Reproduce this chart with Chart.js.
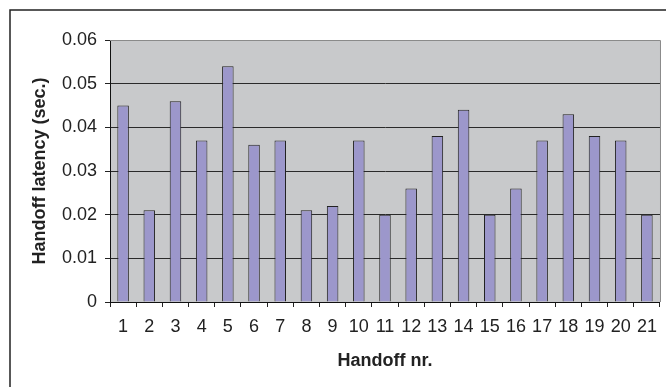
<!DOCTYPE html>
<html>
<head>
<meta charset="utf-8">
<script src="https://cdn.jsdelivr.net/npm/chart.js@4/dist/chart.umd.min.js"></script>
<style>
  body { margin: 0; background: #fff; }
  canvas { display: block; }
</style>
</head>
<body>
<canvas id="latencyChart" width="666" height="387"></canvas>
<script>
// Handoff numbers and measured latency (sec.)
var handoffs = ['1', '2', '3', '4', '5', '6', '7', '8', '9', '10', '11',
                '12', '13', '14', '15', '16', '17', '18', '19', '20', '21'];
var latency = [0.045, 0.021, 0.046, 0.037, 0.054, 0.036, 0.037, 0.021, 0.022, 0.037, 0.020,
               0.026, 0.038, 0.044, 0.020, 0.026, 0.037, 0.043, 0.038, 0.037, 0.020];
var yTicks = [0, 0.01, 0.02, 0.03, 0.04, 0.05, 0.06];

var fontFamily = '"Liberation Sans", Arial, sans-serif';

// Gray plot area, gray frame, and the outer chart border (cropped on right/bottom)
var framePlugin = {
  id: 'frame',
  beforeDraw: function(chart) {
    var ctx = chart.ctx;
    var a = chart.chartArea;
    ctx.save();
    ctx.fillStyle = '#c8c9cb';
    ctx.fillRect(a.left, a.top, a.right - a.left, a.bottom - a.top);
    ctx.strokeStyle = '#222';
    ctx.lineWidth = 1.5;
    ctx.beginPath();
    ctx.moveTo(10, chart.height);
    ctx.lineTo(10, 10);
    ctx.lineTo(chart.width, 10);
    ctx.stroke();
    ctx.restore();
  },
  afterDraw: function(chart) {
    var ctx = chart.ctx;
    var a = chart.chartArea;
    ctx.save();
    ctx.strokeStyle = '#8a8a8a';
    ctx.lineWidth = 1;
    ctx.beginPath();
    ctx.moveTo(a.right + 0.5, a.bottom);
    ctx.lineTo(a.right + 0.5, a.top + 0.5);
    ctx.lineTo(a.left, a.top + 0.5);
    ctx.stroke();
    ctx.restore();
  }
};

var ctx = document.getElementById('latencyChart').getContext('2d');
var chart = new Chart(ctx, {
  type: 'bar',
  data: {
    labels: handoffs,
    datasets: [{
      label: 'Handoff latency',
      data: latency,
      backgroundColor: '#9c97cb',
      borderColor: '#222',
      borderWidth: 1,
      barPercentage: 0.44,
      categoryPercentage: 1
    }]
  },
  options: {
    responsive: false,
    animation: false,
    layout: { padding: { top: 40, right: 4, left: 0, bottom: 0 } },
    plugins: {
      legend: { display: false },
      tooltip: { enabled: false }
    },
    scales: {
      x: {
        grid: { drawOnChartArea: false, tickLength: 5, color: '#222', offset: true },
        border: { color: '#111', width: 1 },
        ticks: {
          color: '#222',
          padding: 9,
          maxRotation: 0,
          autoSkip: false,
          font: { family: fontFamily, size: 18 }
        },
        title: {
          display: true,
          text: 'Handoff nr.',
          color: '#222',
          padding: { top: 4, bottom: 15 },
          font: { family: fontFamily, size: 18, weight: 'bold' }
        },
        afterFit: function(scale) { scale.height = 85; }
      },
      y: {
        min: 0,
        max: 0.06,
        grid: {
          tickLength: 5,
          color: function(c) {
            return c.tick && c.tick.value >= 0.06 ? '#8a8a8a' : '#2a2a2a';
          },
          tickColor: '#222'
        },
        border: { color: '#111', width: 1 },
        afterBuildTicks: function(scale) {
          scale.ticks = yTicks.map(function(v) { return { value: v }; });
        },
        ticks: {
          color: '#222',
          padding: 8,
          font: { family: fontFamily, size: 18 },
          callback: function(v) { return v === 0 ? '0' : v.toFixed(2); }
        },
        title: {
          display: true,
          text: 'Handoff latency (sec.)',
          color: '#222',
          padding: { top: 29, bottom: 4 },
          font: { family: fontFamily, size: 18, weight: 'bold' }
        },
        afterFit: function(scale) { scale.width = 110; }
      }
    }
  },
  plugins: [framePlugin]
});
</script>
</body>
</html>
